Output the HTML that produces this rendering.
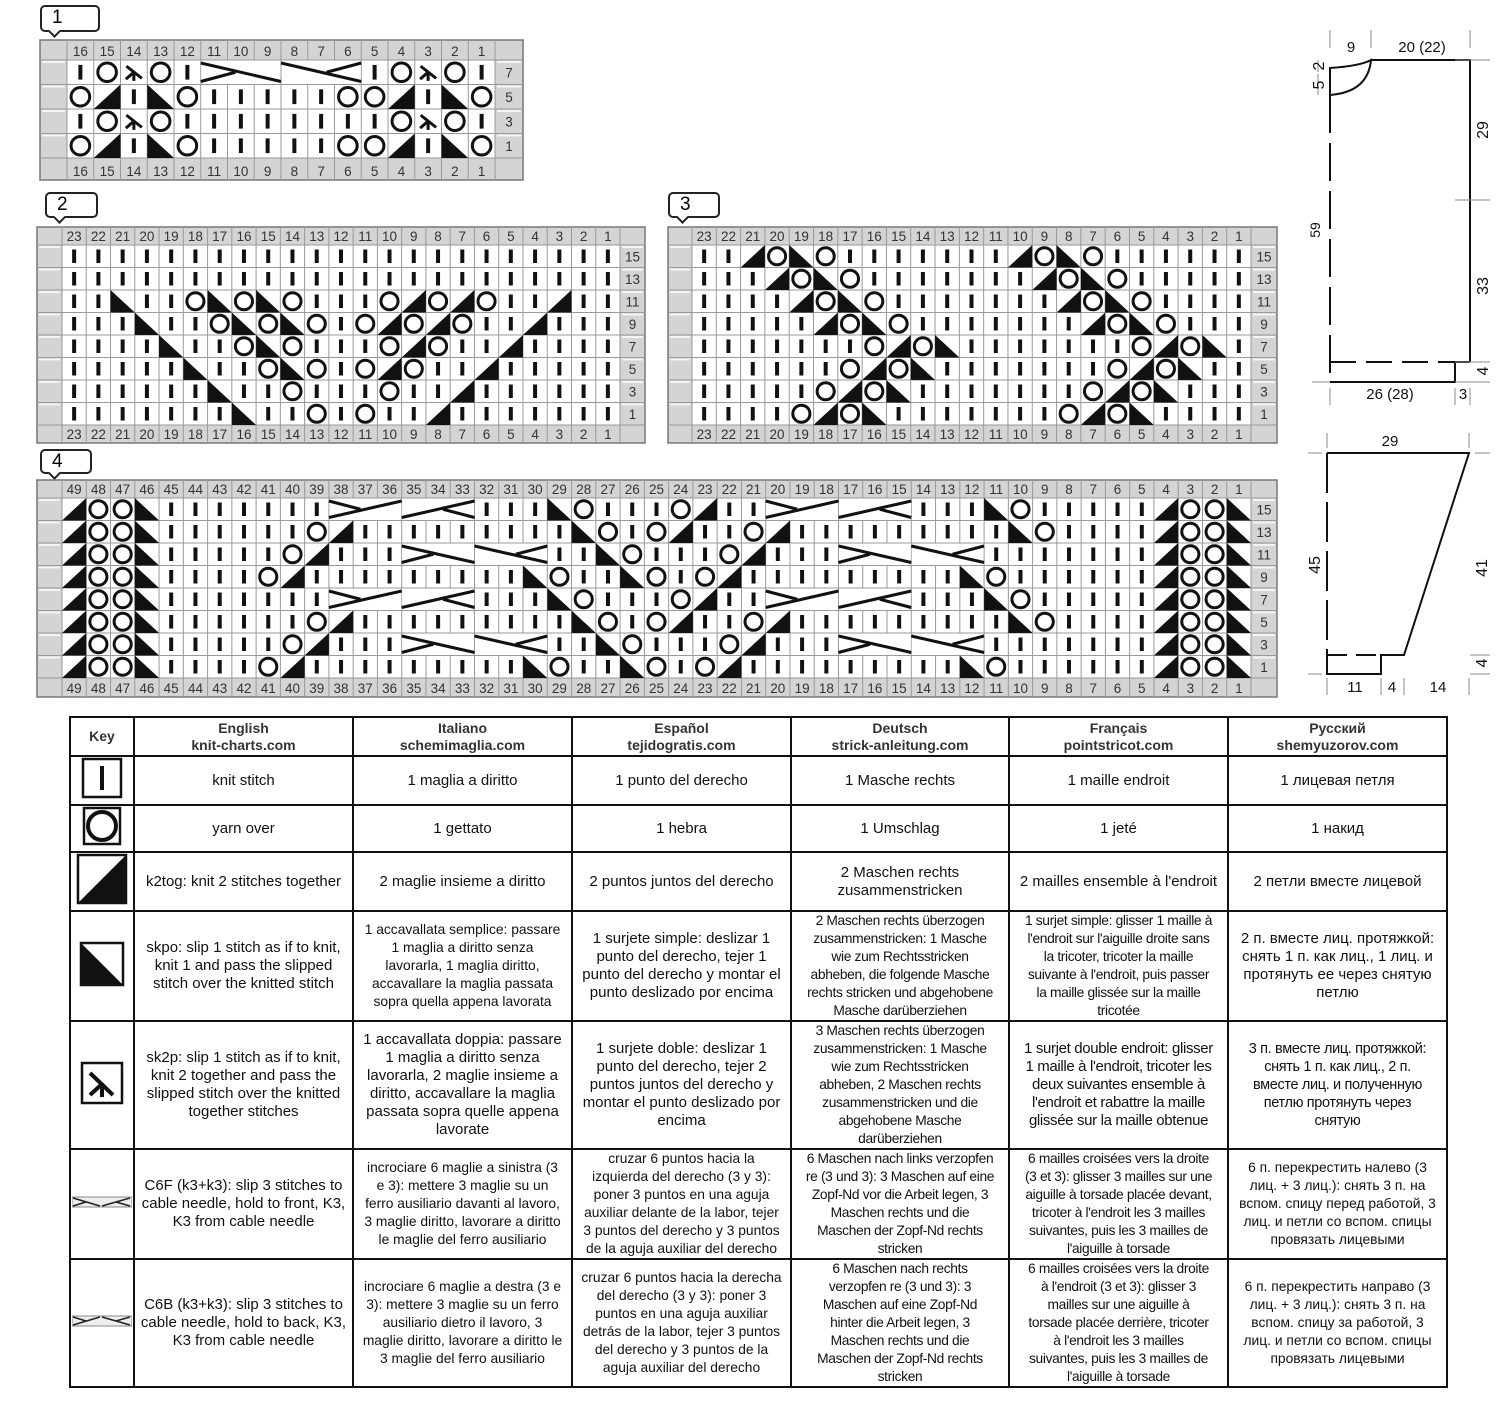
<!DOCTYPE html>
<html><head><meta charset="utf-8">
<style>
html,body{margin:0;padding:0;background:#fff;}
body{width:1500px;height:1410px;position:relative;overflow:hidden;font-family:"Liberation Sans",Arial,sans-serif;}
svg{position:absolute;left:0;top:0;}
.bub{position:absolute;border:2px solid #222;border-radius:5px;background:#fff;font-size:19px;line-height:22px;padding-left:10px;box-sizing:border-box;}
.bub:after{content:"";position:absolute;left:8px;bottom:-6px;width:7px;height:7px;background:#fff;border-right:2px solid #222;border-bottom:2px solid #222;transform:rotate(45deg);}
table{position:absolute;left:69px;top:716px;border-collapse:collapse;table-layout:fixed;}
td{border:2.5px solid #111;text-align:center;vertical-align:middle;padding:0 1px;font-size:15px;line-height:18px;color:#111;white-space:nowrap;overflow:hidden;}
td.s{font-size:13.8px;line-height:18px;}
td.n{font-size:13.8px;letter-spacing:-0.35px;}
th{border:2.5px solid #111;font-size:14px;line-height:17px;color:#333;font-weight:bold;}
</style></head><body>
<div class="bub" style="left:40px;top:5px;width:60px;height:27px;">1</div>
<div class="bub" style="left:45px;top:192px;width:53px;height:26px;">2</div>
<div class="bub" style="left:668px;top:192px;width:52px;height:26px;">3</div>
<div class="bub" style="left:40px;top:449px;width:52px;height:25px;">4</div>

<svg id="cv" width="1500" height="710" viewBox="0 0 1500 710"></svg>

<svg width="1500" height="710" style="pointer-events:none" font-family="Liberation Sans, Arial, sans-serif" font-size="15" fill="#111">
<g stroke="#111" stroke-width="2" fill="none">
<path d="M1371 60 H1470 V362"/>
<path d="M1330 68 Q1360 66 1371 60 Q1368 92 1330 95 Z"/>
<path d="M1330 95 V382" stroke-dasharray="38 10"/>
<path d="M1330 382 H1455 V362"/>
<path d="M1330 362 H1455" stroke-dasharray="26 10"/>
<path d="M1455 362 H1470"/>
<path d="M1327 453 H1469 L1404 655 H1381 V674 H1327 V655"/>
<path d="M1327 453 V655" stroke-dasharray="40 9"/>
<path d="M1327 655 H1381" stroke-dasharray="20 9"/>
</g>
<g stroke="#888" stroke-width="1">
<path d="M1330 30V48 M1371 30V48 M1470 30V48 M1455 60H1490 M1318 60V72 M1318 74V95 M1455 200H1490 M1455 362H1490 M1455 382H1490 M1312 382H1330 M1330 388V405 M1455 388V405 M1470 388V405"/>
<path d="M1327 433V448 M1469 433V448 M1308 453H1322 M1475 453H1490 M1308 674H1322 M1327 678V695 M1381 678V695 M1404 678V695 M1469 678V695 M1470 655H1490 M1470 674H1490"/>
</g>
<text x="1351" y="52" text-anchor="middle">9</text>
<text x="1422" y="52" text-anchor="middle">20 (22)</text>
<text x="1390" y="399" text-anchor="middle">26 (28)</text>
<text x="1463" y="399" text-anchor="middle">3</text>
<text x="1390" y="446" text-anchor="middle">29</text>
<text x="1355" y="692" text-anchor="middle">11</text>
<text x="1392" y="692" text-anchor="middle">4</text>
<text x="1438" y="692" text-anchor="middle">14</text>
<text transform="translate(1324,85) rotate(-90)" text-anchor="middle" font-size="16">5</text>
<text transform="translate(1324,66) rotate(-90)" text-anchor="middle" font-size="16">2</text>
<text transform="translate(1320,230) rotate(-90)" text-anchor="middle" font-size="14">59</text>
<text transform="translate(1488,130) rotate(-90)" text-anchor="middle" font-size="16">29</text>
<text transform="translate(1488,286) rotate(-90)" text-anchor="middle" font-size="16">33</text>
<text transform="translate(1488,371) rotate(-90)" text-anchor="middle" font-size="16">4</text>
<text transform="translate(1320,565) rotate(-90)" text-anchor="middle" font-size="16">45</text>
<text transform="translate(1487,568) rotate(-90)" text-anchor="middle" font-size="16">41</text>
<text transform="translate(1487,663) rotate(-90)" text-anchor="middle" font-size="16">4</text>
</svg>

<table>
<colgroup><col style="width:64px"><col style="width:219px"><col style="width:219px"><col style="width:219px"><col style="width:218px"><col style="width:219px"><col style="width:219px"></colgroup>
<tr style="height:39px"><th>Key</th><th>English<br>knit-charts.com</th><th>Italiano<br>schemimaglia.com</th><th>Español<br>tejidogratis.com</th><th>Deutsch<br>strick-anleitung.com</th><th>Français<br>pointstricot.com</th><th>Русский<br>shemyuzorov.com</th></tr>
<tr style="height:49px"><td><svg style="position:static" width="42" height="42"><rect x="2" y="2" width="38" height="38" fill="#fff" stroke="#111" stroke-width="2.5"/><line x1="21" y1="9" x2="21" y2="33" stroke="#111" stroke-width="4"/></svg></td><td>knit stitch</td><td>1 maglia a diritto</td><td>1 punto del derecho</td><td>1 Masche rechts</td><td>1 maille endroit</td><td>1 лицевая петля</td></tr>
<tr style="height:47px"><td><svg style="position:static" width="40" height="40"><rect x="2" y="2" width="36" height="36" fill="#fff" stroke="#111" stroke-width="2.5"/><circle cx="20" cy="20" r="14" fill="none" stroke="#111" stroke-width="4"/></svg></td><td>yarn over</td><td>1 gettato</td><td>1 hebra</td><td>1 Umschlag</td><td>1 jeté</td><td>1 накид</td></tr>
<tr style="height:56px"><td><svg style="position:static" width="52" height="52"><rect x="2" y="2" width="48" height="48" fill="#fff" stroke="#111" stroke-width="2.5"/><polygon points="2,50 50,50 50,2" fill="#111"/></svg></td><td>k2tog: knit 2 stitches together</td><td>2 maglie insieme a diritto</td><td>2 puntos juntos del derecho</td><td>2 Maschen rechts<br>zusammenstricken</td><td>2 mailles ensemble à l'endroit</td><td>2 петли вместе лицевой</td></tr>
<tr style="height:109px"><td><svg style="position:static" width="46" height="46"><rect x="2" y="2" width="42" height="42" fill="#fff" stroke="#111" stroke-width="2.5"/><polygon points="2,2 2,44 44,44" fill="#111"/></svg></td><td>skpo: slip 1 stitch as if to knit,<br>knit 1 and pass the slipped<br>stitch over the knitted stitch</td><td class="s">1 accavallata semplice: passare<br>1 maglia a diritto senza<br>lavorarla, 1 maglia diritto,<br>accavallare la maglia passata<br>sopra quella appena lavorata</td><td>1 surjete simple: deslizar 1<br>punto del derecho, tejer 1<br>punto del derecho y montar el<br>punto deslizado por encima</td><td class="n">2 Maschen rechts überzogen<br>zusammenstricken: 1 Masche<br>wie zum Rechtsstricken<br>abheben, die folgende Masche<br>rechts stricken und abgehobene<br>Masche darüberziehen</td><td class="n">1 surjet simple: glisser 1 maille à<br>l'endroit sur l'aiguille droite sans<br>la tricoter, tricoter la maille<br>suivante à l'endroit, puis passer<br>la maille glissée sur la maille<br>tricotée</td><td>2 п. вместе лиц. протяжкой:<br>снять 1 п. как лиц., 1 лиц. и<br>протянуть ее через снятую<br>петлю</td></tr>
<tr style="height:127px"><td><svg style="position:static" width="44" height="44"><rect x="2" y="2" width="40" height="40" fill="#fff" stroke="#111" stroke-width="2.5"/><path d="M22 22V36 M10 12L33 34 M22 23L10 34" stroke="#111" stroke-width="4" fill="none"/></svg></td><td>sk2p: slip 1 stitch as if to knit,<br>knit 2 together and pass the<br>slipped stitch over the knitted<br>together stitches</td><td>1 accavallata doppia: passare<br>1 maglia a diritto senza<br>lavorarla, 2 maglie insieme a<br>diritto, accavallare la maglia<br>passata sopra quelle appena<br>lavorate</td><td>1 surjete doble: deslizar 1<br>punto del derecho, tejer 2<br>puntos juntos del derecho y<br>montar el punto deslizado por<br>encima</td><td class="n">3 Maschen rechts überzogen<br>zusammenstricken: 1 Masche<br>wie zum Rechtsstricken<br>abheben, 2 Maschen rechts<br>zusammenstricken und die<br>abgehobene Masche<br>darüberziehen</td><td class="n" style="font-size:15px">1 surjet double endroit: glisser<br>1 maille à l'endroit, tricoter les<br>deux suivantes ensemble à<br>l'endroit et rabattre la maille<br>glissée sur la maille obtenue</td><td class="n" style="font-size:14.5px">3 п. вместе лиц. протяжкой:<br>снять 1 п. как лиц., 2 п.<br>вместе лиц. и полученную<br>петлю протянуть через<br>снятую</td></tr>
<tr style="height:110px"><td><svg style="position:static" width="60" height="12"><rect x="0" y="1" width="60" height="10" fill="#eee" stroke="#888" stroke-width="1"/><path d="M1 2L28 10 M1 10L14 6 M30 10L58 2 M58 10L44 6" stroke="#222" stroke-width="1.5"/></svg></td><td>C6F (k3+k3): slip 3 stitches to<br>cable needle, hold to front, K3,<br>K3 from cable needle</td><td class="s">incrociare 6 maglie a sinistra (3<br>e 3): mettere 3 maglie su un<br>ferro ausiliario davanti al lavoro,<br>3 maglie diritto, lavorare a diritto<br>le maglie del ferro ausiliario</td><td class="s">cruzar 6 puntos hacia la<br>izquierda del derecho (3 y 3):<br>poner 3 puntos en una aguja<br>auxiliar delante de la labor, tejer<br>3 puntos del derecho y 3 puntos<br>de la aguja auxiliar del derecho</td><td class="n">6 Maschen nach links verzopfen<br>re (3 und 3): 3 Maschen auf eine<br>Zopf-Nd vor die Arbeit legen, 3<br>Maschen rechts und die<br>Maschen der Zopf-Nd rechts<br>stricken</td><td class="n">6 mailles croisées vers la droite<br>(3 et 3): glisser 3 mailles sur une<br>aiguille à torsade placée devant,<br>tricoter à l'endroit les 3 mailles<br>suivantes, puis les 3 mailles de<br>l'aiguille à torsade</td><td class="s">6 п. перекрестить налево (3<br>лиц. + 3 лиц.): снять 3 п. на<br>вспом. спицу перед работой, 3<br>лиц. и петли со вспом. спицы<br>провязать лицевыми</td></tr>
<tr style="height:126px"><td><svg style="position:static" width="60" height="12"><rect x="0" y="1" width="60" height="10" fill="#eee" stroke="#888" stroke-width="1"/><path d="M1 10L28 2 M1 2L14 6 M30 2L58 10 M58 2L44 6" stroke="#222" stroke-width="1.5"/></svg></td><td>C6B (k3+k3): slip 3 stitches to<br>cable needle, hold to back, K3,<br>K3 from cable needle</td><td class="s">incrociare 6 maglie a destra (3 e<br>3): mettere 3 maglie su un ferro<br>ausiliario dietro il lavoro, 3<br>maglie diritto, lavorare a diritto le<br>3 maglie del ferro ausiliario</td><td class="s">cruzar 6 puntos hacia la derecha<br>del derecho (3 y 3): poner 3<br>puntos en una aguja auxiliar<br>detrás de la labor, tejer 3 puntos<br>del derecho y 3 puntos de la<br>aguja auxiliar del derecho</td><td class="n">6 Maschen nach rechts<br>verzopfen re (3 und 3): 3<br>Maschen auf eine Zopf-Nd<br>hinter die Arbeit legen, 3<br>Maschen rechts und die<br>Maschen der Zopf-Nd rechts<br>stricken</td><td class="n">6 mailles croisées vers la droite<br>à l'endroit (3 et 3): glisser 3<br>mailles sur une aiguille à<br>torsade placée derrière, tricoter<br>à l'endroit les 3 mailles<br>suivantes, puis les 3 mailles de<br>l'aiguille à torsade</td><td class="s">6 п. перекрестить направо (3<br>лиц. + 3 лиц.): снять 3 п. на<br>вспом. спицу за работой, 3<br>лиц. и петли со вспом. спицы<br>провязать лицевыми</td></tr>
</table>

<script>
(function(){
var NS="http://www.w3.org/2000/svg",sv=document.getElementById("cv");
function el(t,a,p){var e=document.createElementNS(NS,t);for(var k in a)e.setAttribute(k,a[k]);(p||sv).appendChild(e);return e;}
function txt(x,y,s,fs){var e=el("text",{x:x,y:y,"text-anchor":"middle","font-size":fs,"font-family":"Liberation Sans, Arial, sans-serif",fill:"#333"});e.textContent=s;}
function rep(c,n){return new Array(n+1).join(c);}
function chart(X0,X1,Y0,Y1,lw,rw,hh,fh,rows,rlabels){
 var n=rows[0].length,cx0=X0+lw,cx1=X1-rw,w=(cx1-cx0)/n,ry0=Y0+hh,ry1=Y1-fh,h=(ry1-ry0)/rows.length;
 el("rect",{x:X0,y:Y0,width:X1-X0,height:Y1-Y0,fill:"#d4d4d4",stroke:"#777","stroke-width":1.5});
 el("rect",{x:cx0,y:ry0,width:cx1-cx0,height:ry1-ry0,fill:"#fff"});
 var g=el("g",{stroke:"#999","stroke-width":1,fill:"none"});
 for(var i=0;i<=n;i++){el("line",{x1:cx0+i*w,y1:Y0,x2:cx0+i*w,y2:Y1},g);}
 for(var r=0;r<=rows.length;r++){el("line",{x1:X0,y1:ry0+r*h,x2:X1,y2:ry0+r*h},g);}
 for(var r=0;r<rows.length;r++){el("line",{x1:X0+2,y1:ry0+r*h+2,x2:cx0-2,y2:ry0+r*h+2,stroke:"#f4f4f4","stroke-width":2});
  el("line",{x1:cx1+2,y1:ry0+r*h+2,x2:X1-2,y2:ry0+r*h+2,stroke:"#f4f4f4","stroke-width":2});}
 for(var i=0;i<n;i++){var lab=String(n-i);txt(cx0+i*w+w/2,Y0+hh-4,lab,13.5);txt(cx0+i*w+w/2,Y1-4,lab,13.5);}
 for(var r=0;r<rows.length;r++){txt(cx1+rw/2,ry0+r*h+h/2+5,rlabels[r],13.5);
  var s=rows[r],y=ry0+r*h;
  for(var i=0;i<n;i++){var c=s[i],x=cx0+i*w,cx=x+w/2,cy=y+h/2;
   if(c=="K")el("line",{x1:cx,y1:y+h*0.2,x2:cx,y2:y+h*0.8,stroke:"#111","stroke-width":4});
   else if(c=="O")el("circle",{cx:cx,cy:cy,r:Math.min(w,h)*0.38,fill:"none",stroke:"#111","stroke-width":3});
   else if(c=="T")el("polygon",{points:x+","+(y+h)+" "+(x+w)+","+(y+h)+" "+(x+w)+","+y,fill:"#111"});
   else if(c=="S")el("polygon",{points:x+","+y+" "+x+","+(y+h)+" "+(x+w)+","+(y+h),fill:"#111"});
   else if(c=="A")el("path",{d:"M"+(x+w*0.22)+" "+(y+h*0.25)+"L"+(x+w*0.8)+" "+(y+h*0.75)+"M"+cx+" "+(y+h*0.5)+"V"+(y+h*0.85)+"M"+cx+" "+(y+h*0.5)+"L"+(x+w*0.2)+" "+(y+h*0.78),stroke:"#111","stroke-width":3,fill:"none"});
   else if("abcd".indexOf(c)>=0){var W=3*w,ty=y+3,by=y+h-3,m=cy,L,S;
    el("rect",{x:x+0.5,y:y+0.5,width:W-1,height:h-1,fill:"#fff"});
    if(c=="a"){L=[x,ty,x+W,by];S=[x,by,x+1.3*w,m];}
    if(c=="b"){L=[x,ty,x+W,by];S=[x+W,ty,x+W-1.3*w,m];}
    if(c=="c"){L=[x,by,x+W,ty];S=[x,ty,x+1.3*w,m];}
    if(c=="d"){L=[x,by,x+W,ty];S=[x+W,by,x+W-1.3*w,m];}
    el("line",{x1:L[0],y1:L[1],x2:L[2],y2:L[3],stroke:"#111","stroke-width":3});
    el("line",{x1:S[0],y1:S[1],x2:S[2],y2:S[3],stroke:"#111","stroke-width":3});}
  }}
}
var K=function(n){return rep("K",n);};
var r5="OTKSOKKKKKOOTKSO";
chart(40,523,40,180,27,28,20,22,["KOAOK"+"a--b--"+"KOAOK",r5,"KOAOK"+K(7)+"OAOK",r5],["7","5","3","1"]);
chart(37,645,227,443,25,25,18,18,[K(23),K(23),"KKSKKOSOSOKKKOTOTOKKTKK","KKKSKKOSOSOKOTOTOKKTKKK","KKKKSKKOSOKKKOTOKKTKKKK","KKKKKSKKOSOKOTOKKTKKKKK","KKKKKKSKKOKKKOKKTKKKKKK","KKKKKKKSKKOKOKKTKKKKKKK"],["15","13","11","9","7","5","3","1"]);
chart(668,1277,227,443,24,26,18,18,["KKTOSO"+K(7)+"TOSO"+K(6),"KKKTOSO"+K(7)+"TOSO"+K(5),K(4)+"TOSO"+K(7)+"TOSO"+K(4),K(5)+"TOSO"+K(7)+"TOSO"+K(3),K(7)+"OTOS"+K(7)+"OTOS"+K(1),K(6)+"OTOS"+K(7)+"OTOS"+K(2),K(5)+"OTOS"+K(7)+"OTOS"+K(3),K(4)+"OTOS"+K(7)+"OTOS"+K(4)],["15","13","11","9","7","5","3","1"]);
var E="TOOS";
var a15=E+K(7)+"c--d--"+"KKK"+"SOKKKOT"+"KK"+"c--d--"+"KKK"+"SO"+K(5)+E;
var a13=E+K(6)+"OT"+K(8)+"KSOKO"+"TKKOT"+K(9)+"SO"+K(4)+E;
var a11=E+K(5)+"OT"+"KKK"+"a--b--"+"KKSOKKKOT"+"KKK"+"a--b--"+K(7)+E;
var a9=E+K(4)+"OT"+K(9)+"SOKKSOKOT"+K(9)+"SO"+K(6)+E;
chart(37,1277,480,697,25,26,18,19,[a15,a13,a11,a9,a15,a13,a11,a9],["15","13","11","9","7","5","3","1"]);
})();
</script>
</body></html>
